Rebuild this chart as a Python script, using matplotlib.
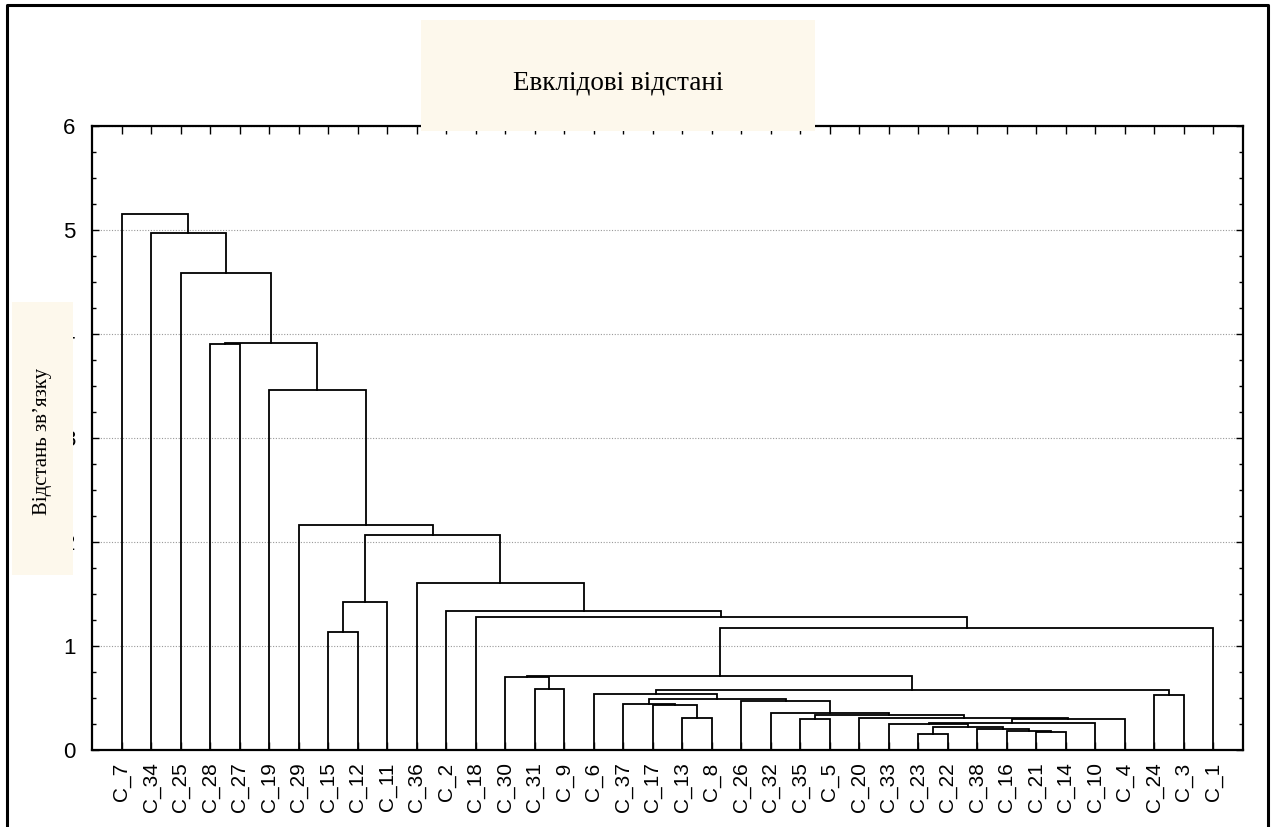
import matplotlib
matplotlib.use('Agg')
import matplotlib.pyplot as plt
from matplotlib.patches import Rectangle
from matplotlib.lines import Line2D
from matplotlib.ticker import MultipleLocator

# leaf order along the x axis
leaves = ['C_7', 'C_34', 'C_25', 'C_28', 'C_27', 'C_19', 'C_29', 'C_15', 'C_12', 'C_11',
          'C_36', 'C_2', 'C_18', 'C_30', 'C_31', 'C_9', 'C_6', 'C_37', 'C_17', 'C_13',
          'C_8', 'C_26', 'C_32', 'C_35', 'C_5', 'C_20', 'C_33', 'C_23', 'C_22', 'C_38',
          'C_16', 'C_21', 'C_14', 'C_10', 'C_4', 'C_24', 'C_3', 'C_1']

# joins: left member, right member, linkage distance (k<n> = n-th join)
merges = [
    ('C_23', 'C_22', 0.151),  # k0
    ('C_21', 'C_14', 0.176),  # k1
    ('C_16', 'k1', 0.183),    # k2
    ('C_38', 'k2', 0.199),    # k3
    ('k0', 'k3', 0.218),      # k4
    ('C_33', 'k4', 0.253),    # k5
    ('k5', 'C_10', 0.260),    # k6
    ('k6', 'C_4', 0.298),     # k7
    ('C_20', 'k7', 0.310),    # k8
    ('C_35', 'C_5', 0.300),   # k9
    ('k9', 'k8', 0.337),      # k10
    ('C_32', 'k10', 0.359),   # k11
    ('C_26', 'k11', 0.474),   # k12
    ('C_13', 'C_8', 0.308),   # k13
    ('C_17', 'k13', 0.430),   # k14
    ('C_37', 'k14', 0.445),   # k15
    ('k15', 'k12', 0.487),    # k16
    ('C_6', 'k16', 0.538),    # k17
    ('C_24', 'C_3', 0.529),   # k18
    ('k17', 'k18', 0.577),    # k19
    ('C_31', 'C_9', 0.587),   # k20
    ('C_30', 'k20', 0.705),   # k21
    ('k21', 'k19', 0.712),    # k22
    ('k22', 'C_1', 1.173),    # k23
    ('C_18', 'k23', 1.280),   # k24
    ('C_2', 'k24', 1.340),    # k25
    ('C_36', 'k25', 1.606),   # k26
    ('C_15', 'C_12', 1.135),  # k27
    ('k27', 'C_11', 1.423),   # k28
    ('k28', 'k26', 2.067),    # k29
    ('C_29', 'k29', 2.163),   # k30
    ('C_19', 'k30', 3.460),   # k31
    ('C_28', 'C_27', 3.905),  # k32
    ('k32', 'k31', 3.913),    # k33
    ('C_25', 'k33', 4.587),   # k34
    ('C_34', 'k34', 4.970),   # k35
    ('C_7', 'k35', 5.154),    # k36
]

title = 'Евклідові відстані'
ylabel = 'Відстань зв’язку'

W, H = 1276, 827
fig = plt.figure(figsize=(W / 100, H / 100), dpi=100)
ax = fig.add_axes([92 / W, 1 - 750 / H, (1243 - 92) / W, (750 - 126) / H])

pos = {name: i for i, name in enumerate(leaves)}
hgt = {name: 0.0 for name in leaves}
for k, (a, b, h) in enumerate(merges):
    xa, xb = pos[a], pos[b]
    ax.plot([xa, xa, xb, xb], [hgt[a], h, h, hgt[b]], color='black', lw=1.3,
            solid_joinstyle='miter', zorder=3)
    pos['k%d' % k] = (xa + xb) / 2
    hgt['k%d' % k] = h

ax.set_xlim(-1, len(leaves))
ax.set_ylim(0, 6)
ax.set_xticks(range(len(leaves)))
ax.set_xticklabels(leaves, rotation=90, fontsize=15, family='Liberation Sans')
ax.yaxis.set_major_locator(MultipleLocator(1))
ax.yaxis.set_minor_locator(MultipleLocator(0.25))
for lab in ax.get_yticklabels():
    lab.set_family('Liberation Sans')
    lab.set_fontsize(16)
ax.tick_params(axis='x', direction='in', length=6, width=1, top=True, pad=9)
ax.tick_params(axis='y', which='major', direction='in', length=5, width=1, right=True, pad=12)
ax.tick_params(axis='y', which='minor', direction='in', length=3, width=1, right=True)
ax.grid(axis='y', which='major', linestyle=(0, (1, 1.5)), color='#999999', lw=0.8)
for s in ax.spines.values():
    s.set_linewidth(1.6)

# title box
fig.add_artist(Rectangle((421 / W, 1 - 131 / H), (815 - 421) / W, (131 - 20) / H,
                         transform=fig.transFigure, facecolor='#fdf8ec', edgecolor='none', zorder=5))
fig.text(618 / W, 1 - 83 / H, title, ha='center', va='center', fontsize=19.5,
         family='Liberation Serif', zorder=6)

# y label box
fig.add_artist(Rectangle((12 / W, 1 - 575 / H), (73 - 12) / W, (575 - 302) / H,
                         transform=fig.transFigure, facecolor='#fdf8ec', edgecolor='none', zorder=5))
fig.text(43 / W, 1 - 441 / H, ylabel, ha='center', va='center', rotation=90, fontsize=15,
         family='Liberation Serif', zorder=6)

# outer frame (open at the bottom)
fig.add_artist(Line2D([7 / W, 7 / W, 1268 / W, 1268 / W], [0, 1 - 5 / H, 1 - 5 / H, 0],
                      transform=fig.transFigure, color='black', lw=2.2, zorder=7))

fig.savefig('out.png', dpi=100)
